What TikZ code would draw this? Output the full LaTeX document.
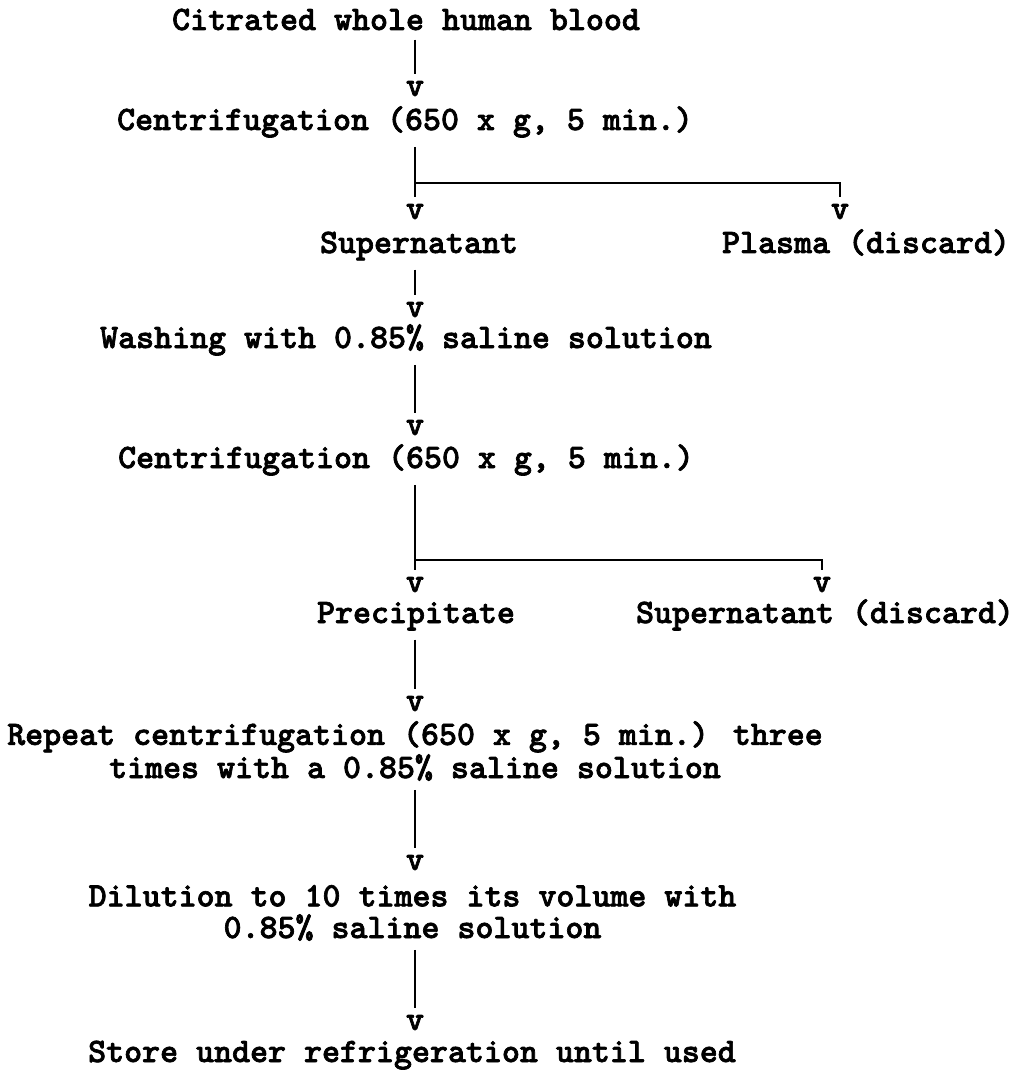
\documentclass[tikz,border=0pt]{standalone}
\usepackage{fontspec}
\usepackage{tikz}

\newfontfamily\typefont{lmmonolt10-bold.otf}[FakeBold=2]
\newcommand\typer{\fontsize{19.5}{16.5}\selectfont\typefont}

\tikzset{
  txt/.style={anchor=base, inner sep=1pt},
  blk/.style={anchor=base, inner sep=1pt, align=center},
  arr/.style={anchor=base, inner sep=0pt},
  link/.style={line width=1.3pt, shorten <=4pt, shorten >=4pt},
  branch/.style={line width=1.3pt, shorten >=4pt}
}

\begin{document}
\begin{tikzpicture}[font=\typer]
  \useasboundingbox (0,0) rectangle (20.56,-21.4);
  \def\mx{8.3}
  \node (blood) at (8.12,-0.60) [txt] {Citrated whole human blood};
  \node (v1) at (\mx,-1.92) [arr] {v};
  \node (centr1) at (8.10,-2.60) [txt] {Centrifugation (650 x g, 5 min.)};
  \coordinate (split1) at (\mx,-3.66);
  \node (v2) at (\mx,-4.38) [arr] {v};
  \node (v3) at (16.8,-4.38) [arr] {v};
  \node (super) at (8.38,-5.06) [txt] {Supernatant};
  \node (plasma) at (17.32,-5.06) [txt] {Plasma (discard)};
  \node (v4) at (\mx,-6.34) [arr] {v};
  \node (wash) at (8.12,-6.96) [txt] {Washing with 0.85\% saline solution};
  \node (v5) at (\mx,-8.70) [arr] {v};
  \node (centr2) at (8.12,-9.36) [txt] {Centrifugation (650 x g, 5 min.)};
  \coordinate (split2) at (\mx,-11.2);
  \node (v6) at (\mx,-11.84) [arr] {v};
  \node (v7) at (16.44,-11.84) [arr] {v};
  \node (precip) at (8.32,-12.46) [txt] {Precipitate};
  \node (superd) at (16.5,-12.46) [txt] {Supernatant (discard)};
  \node (v8) at (\mx,-14.22) [arr] {v};
  % base = last line
  \node (rep) at (8.3,-15.56) [blk]
       {Repeat centrifugation (650 x g, 5 min.) three\\times with a 0.85\% saline solution};
  \node (v9) at (\mx,-17.40) [arr] {v};
  \node (dil) at (8.25,-18.76) [blk]
       {Dilution to 10 times its volume with\\[1.5pt]0.85\% saline solution};
  \node (v10) at (\mx,-20.6) [arr] {v};
  \node (store) at (8.24,-21.24) [txt] {Store under refrigeration until used};
  % main column
  \foreach \a/\b in {blood/v1, centr1/v2, super/v4, wash/v5,
                     centr2/v6, precip/v8, rep/v9, dil/v10} {
    \draw[link] (\b |- \a.south) -- (\b.north);
  }
  % side branches
  \foreach \s/\b in {split1/v3, split2/v7} {
    \draw[branch] (\s) -| (\b.north);
  }
\end{tikzpicture}
\end{document}
